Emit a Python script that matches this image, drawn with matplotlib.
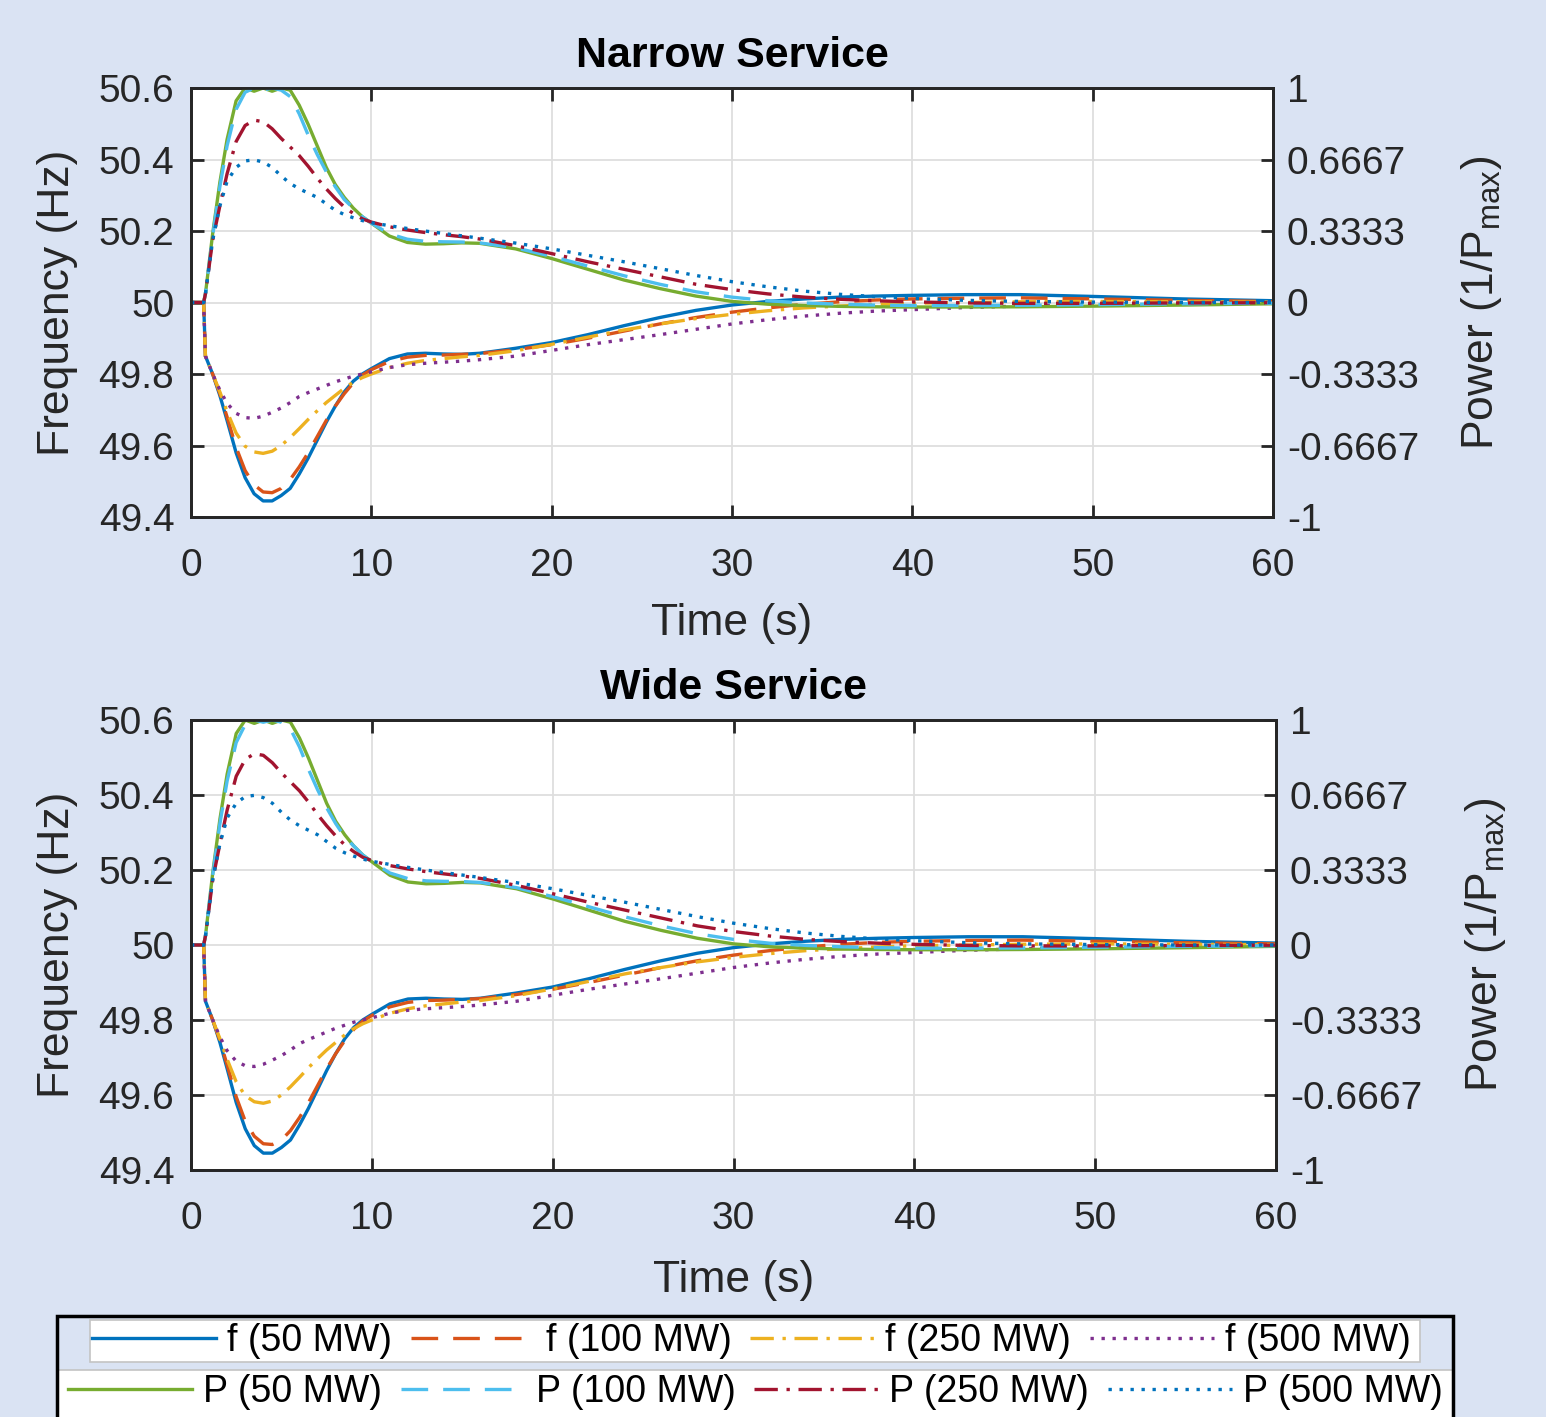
import numpy as np
import matplotlib
matplotlib.use("Agg")
import matplotlib.pyplot as plt
from matplotlib.patches import Rectangle

plt.rcParams['font.family'] = ['Liberation Sans', 'DejaVu Sans']
plt.rcParams['mathtext.default'] = 'regular'

# time samples (s)
t = [0, 0.7, 0.8, 1.2, 1.6, 2.0, 2.5, 3.0, 3.5, 4.0, 4.5, 5.0, 5.5, 6.0, 6.5, 7.0, 7.5, 8.0,
     8.5, 9.0, 9.5, 10, 11, 12, 13, 14, 15, 16, 18, 20, 22, 24, 26, 28, 30, 32, 34, 36, 38,
     40, 43, 46, 50, 55, 60]

# frequency (Hz)
f_50 = [50, 50, 49.85, 49.80, 49.74, 49.67, 49.58, 49.51, 49.465, 49.445, 49.445, 49.46, 49.48,
        49.52, 49.565, 49.615, 49.665, 49.71, 49.75, 49.78, 49.80, 49.815, 49.843, 49.856, 49.858,
        49.856, 49.855, 49.858, 49.872, 49.888, 49.91, 49.935, 49.958, 49.978, 49.993, 50.003,
        50.01, 50.015, 50.018, 50.02, 50.022, 50.022, 50.017, 50.01, 50.005]
f_100 = [50, 50, 49.85, 49.80, 49.745, 49.68, 49.595, 49.53, 49.49, 49.47, 49.468, 49.48, 49.505,
         49.54, 49.58, 49.625, 49.67, 49.71, 49.745, 49.775, 49.797, 49.812, 49.835, 49.847, 49.852,
         49.853, 49.855, 49.857, 49.868, 49.882, 49.90, 49.92, 49.94, 49.958, 49.973, 49.985,
         49.995, 50.002, 50.007, 50.01, 50.012, 50.013, 50.01, 50.006, 50.003]
f_250 = [50, 50, 49.85, 49.80, 49.75, 49.695, 49.635, 49.598, 49.582, 49.578, 49.584, 49.60, 49.622,
         49.647, 49.673, 49.697, 49.72, 49.74, 49.76, 49.777, 49.79, 49.80, 49.818, 49.83, 49.838,
         49.843, 49.848, 49.852, 49.865, 49.883, 49.903, 49.923, 49.94, 49.955, 49.967, 49.977,
         49.985, 49.99, 49.995, 49.998, 50.0, 50.002, 50.003, 50.002, 50.001]
f_500 = [50, 50, 49.85, 49.80, 49.755, 49.718, 49.69, 49.678, 49.676, 49.682, 49.693, 49.705, 49.72,
         49.737, 49.748, 49.758, 49.768, 49.778, 49.786, 49.794, 49.80, 49.806, 49.818, 49.826, 49.83,
         49.833, 49.836, 49.84, 49.85, 49.866, 49.882, 49.896, 49.91, 49.925, 49.94, 49.952,
         49.962, 49.97, 49.976, 49.98, 49.986, 49.99, 49.995, 49.998, 50.0]

# power (1/Pmax)
p_50 = [0, 0, 0.04, 0.32, 0.56, 0.76, 0.94, 1.0, 0.985, 1.0, 0.985, 1.0, 0.99, 0.92, 0.83, 0.73,
        0.63, 0.55, 0.49, 0.44, 0.40, 0.37, 0.31, 0.28, 0.272, 0.274, 0.278, 0.276, 0.25, 0.205,
        0.155, 0.105, 0.065, 0.03, 0.005, -0.008, -0.014, -0.018, -0.02, -0.021, -0.021, -0.02,
        -0.017, -0.012, -0.006]
p_100 = [0, 0, 0.04, 0.31, 0.54, 0.73, 0.90, 0.98, 1.0, 0.99, 1.0, 0.99, 0.96, 0.88, 0.78, 0.69,
         0.61, 0.54, 0.48, 0.44, 0.40, 0.37, 0.32, 0.295, 0.285, 0.283, 0.282, 0.278, 0.255, 0.215,
         0.17, 0.125, 0.085, 0.05, 0.025, 0.008, -0.002, -0.008, -0.012, -0.014, -0.014, -0.013,
         -0.01, -0.006, -0.003]
p_250 = [0, 0, 0.04, 0.29, 0.45, 0.60, 0.75, 0.825, 0.85, 0.843, 0.81, 0.765, 0.725, 0.685, 0.635,
         0.58, 0.53, 0.485, 0.445, 0.415, 0.39, 0.375, 0.353, 0.338, 0.326, 0.316, 0.307, 0.296,
         0.265, 0.228, 0.19, 0.155, 0.12, 0.085, 0.06, 0.04, 0.025, 0.015, 0.008, 0.003, -0.002,
         -0.004, -0.004, -0.002, -0.001]
p_500 = [0, 0, 0.04, 0.29, 0.45, 0.565, 0.63, 0.66, 0.665, 0.655, 0.63, 0.59, 0.555, 0.53, 0.51,
         0.49, 0.46, 0.43, 0.41, 0.395, 0.382, 0.372, 0.358, 0.345, 0.333, 0.322, 0.311, 0.30,
         0.277, 0.25, 0.22, 0.19, 0.158, 0.126, 0.097, 0.073, 0.053, 0.038, 0.027, 0.019, 0.01,
         0.005, 0.002, 0.0, 0.0]

f_series = [f_50, f_100, f_250, f_500]
p_series = [p_50, p_100, p_250, p_500]
f_labels = ['f (50 MW)', 'f (100 MW)', 'f (250 MW)', 'f (500 MW)']
p_labels = ['P (50 MW)', 'P (100 MW)', 'P (250 MW)', 'P (500 MW)']
titles = ['Narrow Service', 'Wide Service']

x_ticks = [0, 10, 20, 30, 40, 50, 60]
f_ticks = [49.4, 49.6, 49.8, 50.0, 50.2, 50.4, 50.6]
f_ticklabels = ['49.4', '49.6', '49.8', '50', '50.2', '50.4', '50.6']
p_ticks = [-1, -2 / 3, -1 / 3, 0, 1 / 3, 2 / 3, 1]
p_ticklabels = ['-1', '-0.6667', '-0.3333', '0', '0.3333', '0.6667', '1']

f_colors = ['#0072BD', '#D95319', '#EDB120', '#7E2F8E']
p_colors = ['#77AC30', '#4DBEEE', '#A2142F', '#0072BD']
styles = ['-', (0, (8, 4.5)), (0, (7, 2.6, 1, 2.6)), (0, (1, 2.3))]

BG = '#dae3f3'
W, H = 1546, 1417
fig = plt.figure(figsize=(W / 100, H / 100), dpi=100, facecolor=BG)

# axes boxes in pixels: left, top, right, bottom
boxes = [(191, 88, 1273, 517), (191, 720, 1276, 1170)]

f_handles, p_handles = [], []
for k, (l, tp, r, b) in enumerate(boxes):
    ax = fig.add_axes([l / W, 1 - b / H, (r - l) / W, (b - tp) / H])
    ax2 = ax.twinx()
    for i in range(4):
        ln, = ax.plot(t, f_series[i], color=f_colors[i], linestyle=styles[i], lw=2.4,
                      dash_capstyle='butt')
        if k == 0:
            f_handles.append(ln)
    for i in range(4):
        ln, = ax2.plot(t, p_series[i], color=p_colors[i], linestyle=styles[i], lw=2.4,
                       dash_capstyle='butt')
        if k == 0:
            p_handles.append(ln)

    ax.set_xlim(0, 60)
    ax.set_ylim(49.4, 50.6)
    ax2.set_ylim(-1, 1)
    ax.set_xticks(x_ticks)
    ax.set_xticklabels([str(v) for v in x_ticks])
    ax.set_yticks(f_ticks)
    ax.set_yticklabels(f_ticklabels)
    ax2.set_yticks(p_ticks)
    ax2.set_yticklabels(p_ticklabels)

    ax.grid(True, color='#dedede', lw=1.3)
    ax.set_axisbelow(True)
    ax.tick_params(axis='x', direction='in', top=True, length=9, width=2, labelsize=28,
                   pad=22, colors='#262626')
    ax.tick_params(axis='y', direction='in', right=False, length=9, width=2, labelsize=28,
                   pad=12, colors='#262626')
    ax2.tick_params(axis='y', direction='in', length=9, width=2, labelsize=28, pad=10,
                    colors='#262626')
    for a in (ax, ax2):
        for s in a.spines.values():
            s.set_color('#262626')
            s.set_linewidth(2)

    ax.set_xlabel('Time (s)', fontsize=32, color='#262626')
    ax.xaxis.set_label_coords(0.5, -0.2)
    ax.set_ylabel('Frequency (Hz)', fontsize=32, color='#262626')
    ax.yaxis.set_label_coords(-0.104, 0.5)
    ax2.set_ylabel('Power (1/P$_{max}$)', fontsize=32, color='#262626')
    ax2.yaxis.set_label_coords(1.172, 0.5)
    ax.set_title(titles[k], fontsize=31, fontweight='bold', pad=15)

# legend boxes
fig.patches.append(Rectangle((90 / W, 1 - 1362 / H), (1420 - 90) / W, 42 / H,
                             transform=fig.transFigure, facecolor='white',
                             edgecolor='#c4c4c4', lw=1.2, zorder=1))
fig.patches.append(Rectangle((57 / W, -0.01), (1453 - 57) / W, (1417 - 1370) / H + 0.01,
                             transform=fig.transFigure, facecolor='white',
                             edgecolor='#c4c4c4', lw=1.2, zorder=1))
fig.patches.append(Rectangle((57 / W, -0.01), (1453 - 57) / W, (1417 - 1316) / H + 0.01,
                             transform=fig.transFigure, facecolor='none',
                             edgecolor='black', lw=2.5, zorder=2))

common = dict(ncol=4, loc='center left', frameon=False, fontsize=27, handlelength=3.3,
              handletextpad=0.3, columnspacing=0.5, borderpad=0, borderaxespad=0)
fig.legend(f_handles, f_labels, bbox_to_anchor=(92 / W, 1 - 1341 / H), **common)
fig.legend(p_handles, p_labels, bbox_to_anchor=(68 / W, 1 - 1392 / H), **common)

fig.savefig('out.png', dpi=100, facecolor=BG)
